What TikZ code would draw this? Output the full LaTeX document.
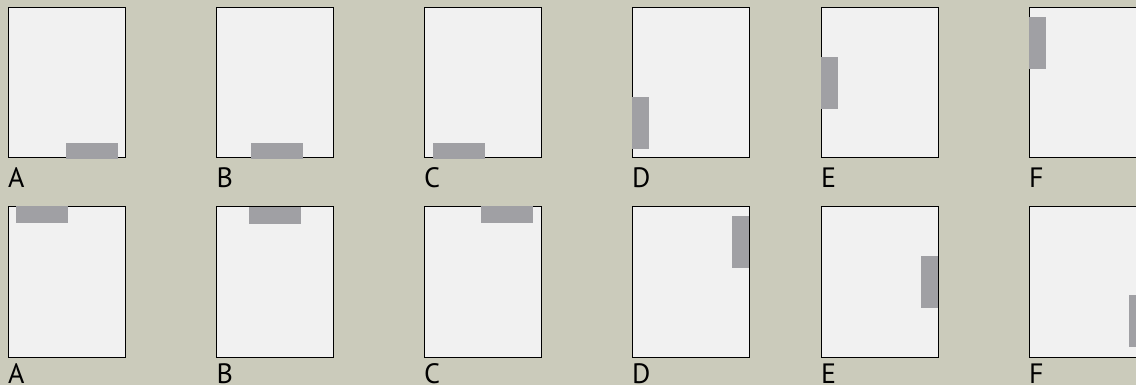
\documentclass[tikz,border=0pt]{standalone}
\usepackage{fontspec}
\setmainfont{PT Sans}
\definecolor{bg}{RGB}{203,203,187}
\definecolor{pagefill}{RGB}{241,241,241}
\definecolor{tabfill}{RGB}{160,160,164}
\begin{document}
\begin{tikzpicture}[x=1pt,y=-1pt,
  pagebox/.style={draw=black,line width=1pt,fill=pagefill},
  tabbox/.style={fill=tabfill},
  lbl/.style={anchor=base west,inner sep=0pt,font=\fontsize{28}{28}\selectfont}]
\fill[bg] (0,0) rectangle (1136,385);
\useasboundingbox (0,0) rectangle (1136,385);
% boxes
\foreach \x/\n in {8/A,216.5/B,424/C,632/D,821/E,1029/F}{
  \draw[pagebox] (\x,8) rectangle ++(117,150);
  \draw[pagebox] (\x,207) rectangle ++(117,150);
  \node[lbl] (top\n) at (\x,188) {\n};
  \node[lbl] (bot\n) at (\x,383) {\n};
}
% tabs row 1
\fill[tabbox] (66,143) rectangle (118,159);
\fill[tabbox] (251,143) rectangle (303,159);
\fill[tabbox] (433,143) rectangle (485,159);
\fill[tabbox] (632,97) rectangle (649,149);
\fill[tabbox] (821,57) rectangle (838,109);
\fill[tabbox] (1029,17) rectangle (1046,69);
% tabs row 2
\fill[tabbox] (16,206) rectangle (68,223);
\fill[tabbox] (249,207) rectangle (301,224);
\fill[tabbox] (481,206) rectangle (533,223);
\fill[tabbox] (732,216) rectangle (749,268);
\fill[tabbox] (921,256) rectangle (938,308);
\fill[tabbox] (1129,295) rectangle (1146,347);
\end{tikzpicture}
\end{document}
